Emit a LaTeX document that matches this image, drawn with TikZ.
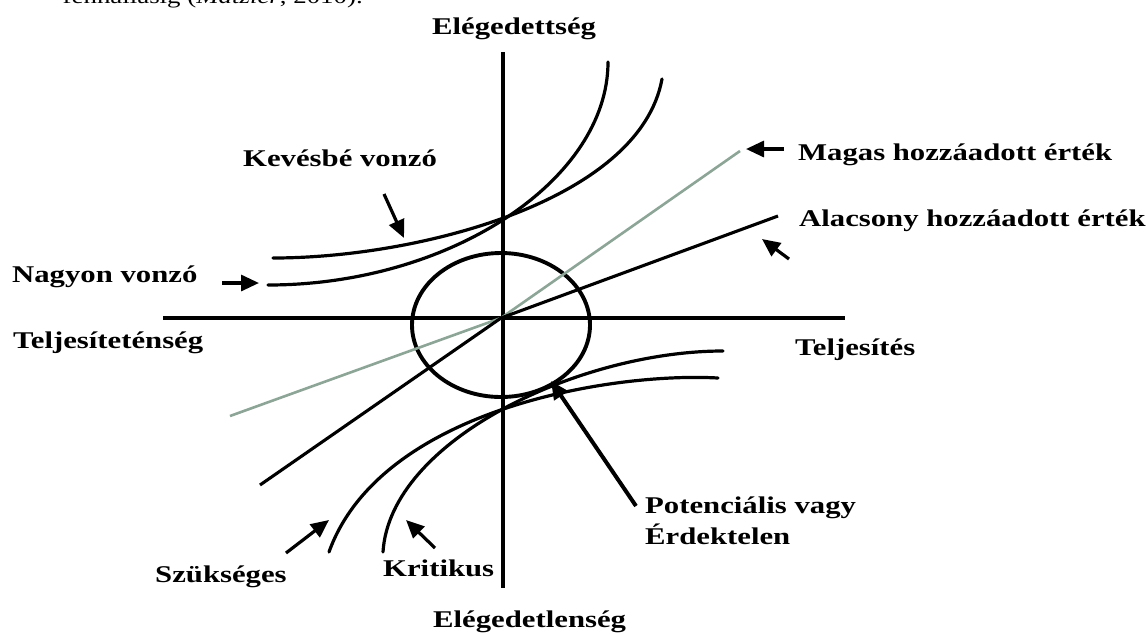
\documentclass[tikz,border=0pt]{standalone}
\usepackage{fontspec}
\setmainfont{Liberation Serif}[FakeStretch=1.28]
\usetikzlibrary{arrows.meta}
\definecolor{grayline}{RGB}{140,165,150}
\begin{document}
\begin{tikzpicture}[x=1pt,y=-1pt,
  lbl/.style={font=\bfseries\fontsize{24}{28}\selectfont, inner sep=0pt, anchor=base west},
  axisline/.style={line width=3.7pt},
  crv/.style={line width=3.2pt, line cap=round},
  ptr/.style={line width=3.2pt, -{Triangle[length=18pt,width=16pt]}},
]
\useasboundingbox (0,0) rectangle (1146,633);
\fill[white] (0,0) rectangle (1146,633);
\begin{scope}
\clip (0,0) rectangle (1146,633);
\node[inner sep=0pt, anchor=base east, font=\fontsize{21}{24}\selectfont] (frag) at (363,3) {fennállásig (\textit{Matzler}, 2010).};
\end{scope}

% axes
\coordinate (O) at (501,318);
\coordinate (yt) at (503,52);
\coordinate (yb) at (503,588);
\coordinate (xl) at (163,318);
\coordinate (xr) at (845,318);
\draw[axisline] (yt) -- (yb);
\draw[axisline] (xl) -- (xr);

% ellipse
\draw[line width=3.9pt] (501,325) ellipse [x radius=89, y radius=72];

% straight (bent) lines
\coordinate (g1) at (230,416);
\coordinate (g2) at (740,151);
\draw[grayline, line width=2.6pt] (g1) -- (O) -- (g2);
\coordinate (b1) at (260,485);
\coordinate (b2) at (778,216);
\draw[line width=3.1pt] (b1) -- (O) -- (b2);

% upper curves
\coordinate (na1) at (268,285); \coordinate (na2) at (608,62);
\coordinate (ke1) at (273,258); \coordinate (ke2) at (662,79);
\draw[crv] (na1) .. controls (450,285) and (608,180) .. (na2);
\draw[crv] (ke1) .. controls (420,258) and (640,200) .. (ke2);

% lower curves
\coordinate (kr1) at (723,351); \coordinate (kr2) at (383,552);
\coordinate (sz1) at (718,378); \coordinate (sz2) at (329,552);
\draw[crv] (kr1) .. controls (580,351) and (390,440) .. (kr2);
\draw[crv] (sz1) .. controls (610,372) and (380,410) .. (sz2);

% labels
\node[lbl] (ely) at (432,34) {Elégedettség};
\node[lbl] (kev) at (243,166) {Kevésbé vonzó};
\node[lbl] (mag) at (798,160) {Magas hozzáadott érték};
\node[lbl] (ala) at (799,226) {Alacsony hozzáadott érték};
\node[lbl] (nag) at (12,282) {Nagyon vonzó};
\node[lbl] (tei) at (13,348) {Teljesíteténség};
\node[lbl] (tel) at (795,355) {Teljesítés};
\node[lbl, align=left, anchor=north west, font=\bfseries\fontsize{24}{31}\selectfont] (pot) at (645,497) {Potenciális vagy\\Érdektelen};
\node[lbl] (szu) at (155,582) {Szükséges};
\node[lbl] (kri) at (383,576) {Kritikus};
\node[lbl] (eln) at (433,627) {Elégedetlenség};

% pointer arrows
\coordinate (a1s) at (384,194); \coordinate (a1e) at (404,238);
\coordinate (a2s) at (222,283); \coordinate (a2e) at (259,283);
\coordinate (a3s) at (784,149); \coordinate (a3e) at (746,149);
\coordinate (a4s) at (789,259); \coordinate (a4e) at (762,239);
\coordinate (a5s) at (636,506); \coordinate (a5e) at (551,381);
\coordinate (a6s) at (286,553); \coordinate (a6e) at (329,520);
\coordinate (a7s) at (435,548); \coordinate (a7e) at (406,520);
\draw[ptr] (a1s) -- (a1e);
\draw[ptr] (a2s) -- (a2e);
\draw[ptr] (a3s) -- (a3e);
\draw[ptr] (a4s) -- (a4e);
\draw[ptr, line width=4pt] (a5s) -- (a5e);
\draw[ptr] (a6s) -- (a6e);
\draw[ptr] (a7s) -- (a7e);
\end{tikzpicture}
\end{document}
